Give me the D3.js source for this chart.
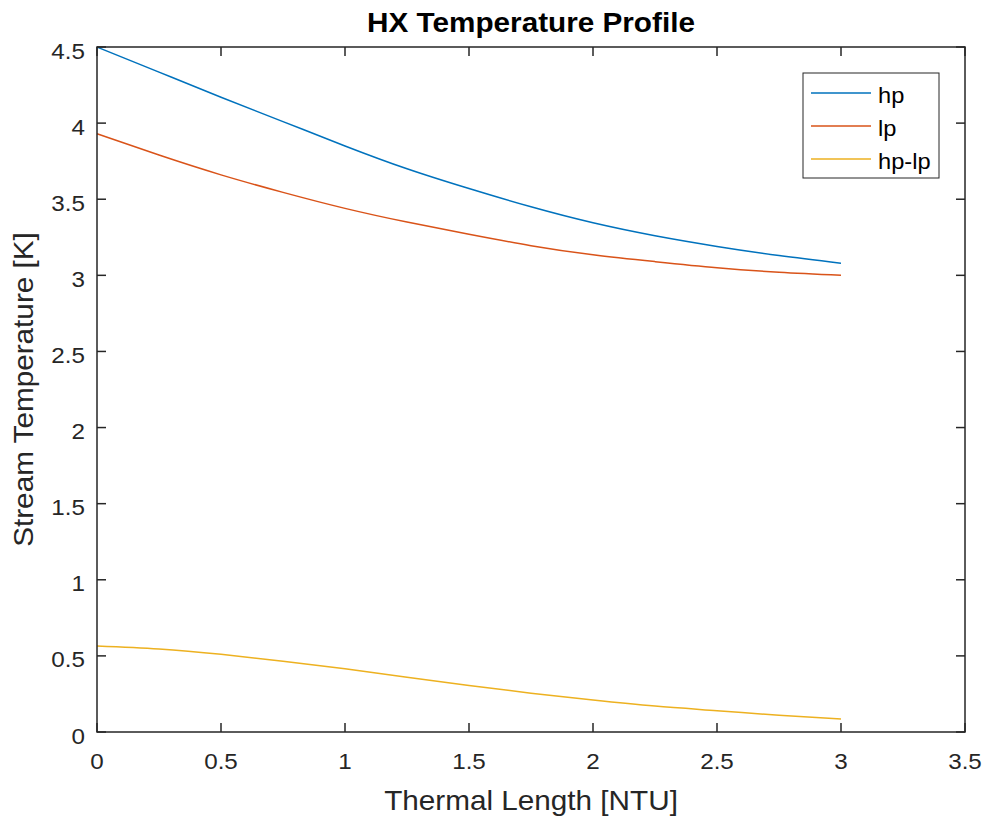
<!DOCTYPE html>
<html lang="en">
<head>
    <meta charset="UTF-8">
    <title>HX Temperature Profile</title>
    <script src="https://d3js.org/d3.v7.min.js"></script>
    <style>
        body { margin: 0; background: #fff; }
        svg { display: block; font-family: "Liberation Sans", Arial, sans-serif; }
        .axis-line { stroke: #262626; stroke-width: 1.5; fill: none; }
        .tick-label { fill: #262626; font-size: 22px; }
    </style>
</head>
<body>
    <div id="chart"></div>

    <script>
        const width = 985, height = 818;
        const plot = { left: 97, right: 965, top: 47, bottom: 732 };
        const stretch = 1.1; // the picture is a bit wider than tall

        // Thermal length [NTU]
        const ntu = [0, 0.25, 0.5, 0.75, 1, 1.25, 1.5, 1.75, 2, 2.25, 2.5, 2.75, 3];
        const hp = [4.50, 4.335, 4.17, 4.01, 3.85, 3.70, 3.57, 3.45, 3.345, 3.26, 3.19, 3.13, 3.08];
        const lp = [3.93, 3.79, 3.66, 3.545, 3.44, 3.35, 3.27, 3.195, 3.135, 3.09, 3.05, 3.02, 3.00];
        const diff = [0.565, 0.545, 0.51, 0.465, 0.415, 0.36, 0.305, 0.255, 0.21, 0.17, 0.14, 0.11, 0.085];

        const seriesNames = ["hp", "lp", "hp-lp"];
        const seriesColors = ["#0072BD", "#D95319", "#EDB120"];
        const seriesValues = [hp, lp, diff];

        const xTicks = [0, 0.5, 1, 1.5, 2, 2.5, 3, 3.5];
        const yTicks = [0, 0.5, 1, 1.5, 2, 2.5, 3, 3.5, 4, 4.5];

        const x = d3.scaleLinear().domain([0, 3.5]).range([plot.left, plot.right]);
        const y = d3.scaleLinear().domain([0, 4.5]).range([plot.bottom, plot.top]);

        const svg = d3.select("#chart").append("svg")
            .attr("width", width).attr("height", height);

        // text helper, stretched horizontally like the original
        function label(g, px, py, txt, anchor, rot) {
            return g.append("text")
                .attr("transform", `translate(${px},${py})` + (rot ? ` rotate(${rot})` : "") + ` scale(${stretch},1)`)
                .attr("text-anchor", anchor)
                .text(txt);
        }

        // lines
        const line = d3.line().curve(d3.curveNatural);
        seriesValues.forEach((vals, i) => {
            svg.append("path")
                .attr("d", line(ntu.map((t, j) => [x(t), y(vals[j])])))
                .attr("fill", "none")
                .attr("stroke", seriesColors[i])
                .attr("stroke-width", 1.5);
        });

        // box + ticks (inward, mirrored)
        const tickLen = 9;
        const ax = svg.append("g");
        ax.append("rect")
            .attr("x", plot.left).attr("y", plot.top)
            .attr("width", plot.right - plot.left).attr("height", plot.bottom - plot.top)
            .attr("class", "axis-line");

        xTicks.forEach(t => {
            ax.append("line").attr("class", "axis-line")
                .attr("x1", x(t)).attr("x2", x(t))
                .attr("y1", plot.bottom).attr("y2", plot.bottom - tickLen);
            ax.append("line").attr("class", "axis-line")
                .attr("x1", x(t)).attr("x2", x(t))
                .attr("y1", plot.top).attr("y2", plot.top + tickLen);
            label(ax, x(t), 769, String(t), "middle").attr("class", "tick-label");
        });

        yTicks.forEach(t => {
            ax.append("line").attr("class", "axis-line")
                .attr("x1", plot.left).attr("x2", plot.left + tickLen)
                .attr("y1", y(t)).attr("y2", y(t));
            ax.append("line").attr("class", "axis-line")
                .attr("x1", plot.right).attr("x2", plot.right - tickLen)
                .attr("y1", y(t)).attr("y2", y(t));
            label(ax, 85, y(t) + 11.5, String(t), "end").attr("class", "tick-label");
        });

        // axis titles
        label(svg, (plot.left + plot.right) / 2, 810, "Thermal Length [NTU]", "middle")
            .attr("font-size", "27px").attr("fill", "#262626");
        label(svg, 33, (plot.top + plot.bottom) / 2, "Stream Temperature [K]", "middle", -90)
            .attr("font-size", "27px").attr("fill", "#262626");
        label(svg, (plot.left + plot.right) / 2, 32, "HX Temperature Profile", "middle")
            .attr("font-size", "27px").attr("font-weight", "bold").attr("fill", "#000");

        // legend
        const leg = svg.append("g");
        leg.append("rect")
            .attr("x", 803).attr("y", 73).attr("width", 136).attr("height", 105)
            .attr("fill", "#fff").attr("stroke", "#262626").attr("stroke-width", 1);
        seriesNames.forEach((name, i) => {
            const ly = 93 + i * 33;
            leg.append("line")
                .attr("x1", 811).attr("x2", 871).attr("y1", ly).attr("y2", ly)
                .attr("stroke", seriesColors[i]).attr("stroke-width", 1.5);
            label(leg, 878, ly + 9.5, name, "start")
                .attr("font-size", "21.5px").attr("fill", "#000");
        });
    </script>
</body>
</html>
